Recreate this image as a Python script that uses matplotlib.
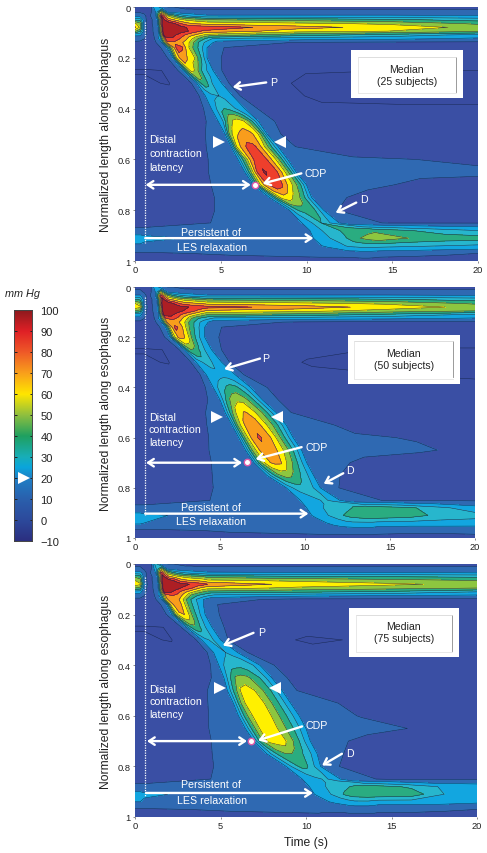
import numpy as np
import matplotlib
matplotlib.use("Agg")
import matplotlib.pyplot as plt
from matplotlib.colors import LinearSegmentedColormap
from matplotlib.patches import Rectangle

plt.rcParams['font.family'] = ['Liberation Sans', 'DejaVu Sans']

LEVELS = [-10, 0, 10, 20, 30, 40, 50, 60, 70, 80, 90, 110]
BAND_COLORS = ['#394ca1', '#3a4fa4', '#2f69b2', '#12a6e0', '#27b6cd', '#2aac80',
               '#8dc63f', '#fff000', '#f99d1c', '#ee3f2c', '#ad1f24']
CBAR_VALUES = [-10, 0, 10, 20, 25, 30, 40, 50, 60, 70, 80, 90, 100]
CBAR_COLORS = ['#2b2f80', '#2d4a9c', '#2a60ad', '#1f80c6', '#0aa5dc', '#18aeb8', '#1fa060',
               '#8fbf3f', '#ffe600', '#f9a01b', '#ef5a28', '#e02026', '#8e1a1e']
CBAR_TICKS = [-10, 0, 10, 20, 30, 40, 50, 60, 70, 80, 90, 100]

DEPTH = [0, .02, .035, .05, .065, .08, .095, .11, .125, .14, .16, .2, .25, .3, .35, .4, .45, .5, .55, .6,
         .65, .7, .75, .8, .85, .88, .91, .94, .97, 1]
BAND_FRACTIONS = [0, .12, .25, .38, .5, .62, .75, .88, 1]

LEFT_25 = [1.2, 1.2, 1.2, 1.3, 1.3, 1.35, 1.35, 1.4, 1.45, 1.55, 1.85, 2.2, 2.8, 3.6, 4.1, 4.45, 4.85, 5.25, 5.6, 6.0,
           6.4, 6.9, 7.9, 9.0, 9.8, 10.2, 10.5, 10.9, 11, 11]
RIGHT_25 = [4, 4, 4, 4, 4, 4, 4, 4, 4.5, 4.55, 4.2, 4.2, 4.55, 5.05, 5.7, 6.4, 7.2, 7.7, 8.35, 8.9,
            9.4, 10, 10.3, 11, 11.9, 14, 14, 14, 14, 14]
PRESSURE_25 = [
    [8, 8, 8, 8, 10, 30, 12, 10, 10, 9, 8, 8, 8, 8, 8, 8, 8, 8],
    [9, 9, 8, 7, 10, 20, 60, 20, 15, 14, 13, 13, 12, 12, 12, 12, 12, 12],
    [16, 16, 12, 7, 11, 20, 90, 60, 48, 38, 32, 28, 25, 23, 22, 22, 22, 21],
    [38, 36, 13, 6, 11, 20, 95, 75, 68, 62, 58, 56, 54, 52, 50, 46, 42, 36],
    [62, 52, 14, 6, 11, 20, 100, 96, 90, 80, 74, 70, 68, 67, 66, 62, 58, 48],
    [72, 58, 14, 6, 11, 20, 100, 98, 96, 94, 90, 88, 87, 86, 86, 74, 66, 57],
    [52, 42, 14, 6, 11, 20, 100, 98, 96, 94, 92, 86, 82, 78, 78, 64, 60, 52],
    [22, 22, 12, 6, 11, 20, 96, 95, 90, 84, 78, 72, 66, 60, 56, 44, 36, 27],
    [14, 13, 10, 6, 11, 24, 85, 88, 80, 72, 60, 48, 38, 30, 28, 24, 22, 18],
    [8, 8, 8, 6, 11, 20, 78, 78, 72, 64, 50, 36, 26, 20, 15, 9, 8, 8],
    [6, 6, 6, 6, 11, 20, 55, 84, 82, 66, 52, 42, 30, 20, 10.5, 7, 7, 7],
    [5, 5, 5, 5, 10.5, 20, 62, 76, 72, 66, 62, 48, 34, 20, 10.5, 6, 6, 6],
    [-.5, -.5, -.5, 0, 10.5, 20, 45, 62, 60, 50, 40, 32, 26, 20, 10.5, 1, 0, 0],
    [1, 1, 1, -.5, 10.5, 20, 36, 46, 44, 36, 30, 28, 24, 20, 10.5, -3, -3, -3],
    [3, 3, 3, 3, 10.5, 20, 24, 27, 29, 30, 29, 27, 24, 20, 10.5, -2, -2, -2],
    [3, 3, 3, 2, 11, 20, 28, 36, 40, 38, 33, 29, 24, 20, 11, 2, 1, 1],
    [3, 3, 3, 3, 12, 20, 30, 52, 62, 65, 62, 52, 36, 20, 11, 5, 4, 4],
    [4, 4, 4, 4, 14, 20, 55, 68, 72, 74, 72, 66, 45, 20, 10.8, 5, 5, 5],
    [5, 5, 5, 6, 14, 20, 60, 76, 84, 82, 72, 55, 37, 20, 10.5, 8, 8, 8],
    [5, 5, 5, 7, 14, 20, 45, 72, 87, 88, 76, 62, 42, 20, 14, 10.5, 10, 9],
    [6, 5, 5, 8, 14, 20, 50, 82, 91, 88, 82, 66, 45, 20, 14, 13, 12, 11],
    [5, 5, 5, 8.5, 14, 20, 58, 78, 87, 85, 72, 58, 42, 20, 15, 12, 8, 8],
    [5, 5, 5, 9.3, 14, 22, 42, 62, 66, 62, 55, 48, 35, 20, 14, 7, 6, 6],
    [5, 5, 5, 10, 14, 20, 32, 40, 42, 44, 44, 40, 30, 20, 11, 6, 6, 6],
    [7, 7, 7, 10.5, 15, 22, 26, 30, 34, 40, 38, 30, 26, 20, 13, 9.5, 9.5, 9.5],
    [12, 12, 12, 13, 15, 20, 27, 33, 36, 42, 44, 46, 46, 48, 46, 40, 34, 30],
    [26, 26, 24, 15, 17, 22, 26, 30, 34, 38, 46, 50, 54, 56, 57, 49, 46, 45],
    [18, 18, 16, 13, 14, 20, 22, 24, 28, 32, 33, 34, 34, 34, 34, 32, 30, 28],
    [9, 9, 9, 11, 13, 13, 13, 13, 13, 14, 14, 15, 15, 14, 13, 12, 11, 10],
    [7, 7, 7, 7, 7, 7, 7, 7, 7, 7, 7, 7, 7, 7, 7, 7, 7, 7],
]

LEFT_50 = [1.2, 1.2, 1.2, 1.3, 1.3, 1.35, 1.35, 1.4, 1.45, 1.55, 1.8, 2.05, 2.9, 3.6, 4.2, 4.6, 5.0, 5.3, 5.7, 6.1,
           6.5, 7.0, 7.75, 8.9, 9.8, 10.1, 10.5, 10.9, 11, 11]
RIGHT_50 = [4, 4, 4, 4, 4, 4, 4, 4, 4.5, 4.3, 4.1, 4.1, 4.5, 5.1, 5.9, 6.8, 7.5, 8.3, 8.9, 9.3,
            9.8, 10.1, 10.5, 10.9, 12.05, 14, 14, 14, 14, 14]
PRESSURE_50 = [
    [8, 8, 8, 8, 10, 28, 12, 10, 10, 9, 8, 8, 8, 8, 8, 8, 8, 8],
    [12, 12, 9, 7, 10, 20, 55, 20, 15, 14, 13, 13, 12, 12, 12, 12, 12, 12],
    [22, 22, 14, 7, 11, 20, 85, 55, 42, 34, 30, 27, 25, 23, 22, 22, 22, 21],
    [42, 38, 14, 6, 11, 20, 95, 72, 66, 60, 56, 54, 52, 50, 48, 46, 42, 36],
    [60, 54, 15, 6, 11, 20, 100, 95, 88, 78, 74, 72, 70, 68, 66, 62, 58, 48],
    [66, 62, 16, 6, 11, 20, 100, 98, 96, 94, 92, 88, 86, 85, 84, 76, 66, 57],
    [50, 46, 14, 6, 11, 20, 100, 97, 95, 92, 88, 84, 78, 72, 68, 64, 56, 50],
    [24, 24, 12, 6, 11, 20, 95, 94, 88, 80, 74, 66, 60, 54, 50, 46, 38, 28],
    [14, 14, 10, 6, 11, 24, 80, 84, 76, 64, 50, 40, 34, 30, 27, 24, 22, 19],
    [8, 8, 8, 6, 11, 20, 70, 72, 70, 60, 46, 36, 26, 20, 14, 9, 8, 8],
    [6, 6, 6, 6, 11, 20, 62, 84, 76, 62, 48, 38, 28, 20, 10.5, 7, 7, 7],
    [5, 5, 5, 5, 10.5, 20, 56, 72, 72, 66, 50, 38, 28, 20, 10.5, 6, 6, 6],
    [-.5, -.5, -.5, 0, 10.5, 20, 42, 50, 48, 42, 36, 30, 26, 20, 10.5, 3, -1, -1],
    [1, 1, 1, -.5, 10.5, 20, 26, 30, 34, 34, 30, 28, 24, 20, 10.5, -1, -2, -2],
    [3, 3, 3, 3, 10.5, 20, 22, 24, 25, 26, 26, 25, 23, 20, 10.5, 2, 0, -1],
    [3, 3, 3, 2, 11, 20, 30, 36, 42, 44, 42, 36, 28, 20, 11, 5, 3, 2],
    [3, 3, 3, 3, 12, 20, 38, 52, 58, 58, 52, 44, 32, 20, 11, 5, 5, 4],
    [4, 4, 4, 4, 14, 20, 46, 66, 71, 68, 58, 48, 34, 20, 10.8, 6, 5, 5],
    [5, 5, 5, 6, 14, 20, 55, 72, 76, 72, 62, 50, 36, 20, 15, 8, 7, 7],
    [5, 5, 5, 7, 14, 20, 52, 74, 82, 76, 68, 52, 36, 20, 16, 11, 9.5, 8],
    [5, 5, 5, 8, 14, 20, 50, 70, 76, 74, 66, 52, 36, 20, 16, 12.5, 11, 8],
    [5, 5, 5, 8.5, 14, 20, 48, 68, 72, 72, 60, 48, 34, 20, 15, 8, 6, 6],
    [5, 5, 5, 9.3, 14, 20, 36, 48, 54, 52, 46, 38, 30, 20, 13, 6, 5, 5],
    [5, 5, 5, 10, 14, 20, 28, 32, 34, 36, 34, 32, 26, 20, 12, 5, 5, 5],
    [7, 7, 7, 10.5, 15, 22, 24, 26, 28, 30, 32, 28, 24, 20, 13, 9.5, 9.5, 9],
    [12, 12, 12, 13, 15, 20, 26, 30, 32, 34, 38, 42, 44, 46, 46, 42, 32, 24],
    [24, 24, 22, 15, 17, 22, 26, 30, 34, 40, 44, 46, 48, 48, 48, 45, 36, 34],
    [22, 22, 20, 14, 15, 15, 20, 23, 26, 27, 28, 28, 28, 28, 27, 26, 26, 25],
    [8, 8, 8, 11, 13, 13, 13, 13, 13, 14, 14, 14, 14, 14, 13, 12, 12, 13],
    [7, 7, 7, 7, 7, 7, 7, 7, 7, 7, 7, 7, 7, 7, 7, 7, 7, 7],
]

LEFT_75 = [1.2, 1.2, 1.2, 1.3, 1.3, 1.35, 1.35, 1.4, 1.45, 1.55, 1.85, 2.15, 3.0, 3.9, 4.6, 4.9, 5.2, 5.4, 5.75, 6.05,
           6.45, 6.95, 7.7, 8.9, 9.85, 10.2, 10.6, 11, 11, 11]
RIGHT_75 = [4, 4, 4, 4, 4, 4, 4, 4, 4.5, 4, 4, 4.1, 4.5, 5, 6, 7.3, 8, 8.6, 9.1, 9.6,
            10, 10.25, 10.65, 10.85, 12, 14, 14, 14, 14, 14]
PRESSURE_75 = [
    [8, 8, 8, 8, 10, 35, 12, 10, 10, 9, 8, 8, 8, 8, 8, 8, 8, 8],
    [12, 12, 9, 7, 10, 25, 60, 20, 15, 14, 13, 13, 12, 12, 12, 12, 12, 12],
    [24, 24, 14, 7, 11, 20, 85, 55, 42, 34, 30, 27, 25, 23, 22, 21, 21, 20],
    [48, 44, 14, 6, 11, 20, 95, 72, 66, 60, 56, 54, 52, 50, 46, 42, 40, 38],
    [60, 54, 15, 6, 11, 20, 100, 95, 88, 76, 72, 70, 68, 66, 62, 58, 54, 50],
    [66, 62, 16, 6, 11, 20, 100, 98, 96, 94, 92, 88, 86, 84, 80, 66, 62, 57],
    [50, 46, 14, 6, 11, 20, 100, 96, 94, 90, 86, 80, 72, 66, 64, 58, 54, 50],
    [24, 24, 12, 6, 11, 20, 92, 92, 86, 78, 70, 62, 55, 50, 46, 42, 38, 30],
    [14, 14, 10, 6, 11, 22, 72, 80, 74, 62, 46, 38, 32, 28, 26, 22, 20, 18],
    [8, 8, 8, 6, 11, 20, 68, 76, 74, 62, 46, 36, 26, 20, 13, 8, 8, 8],
    [6, 6, 6, 6, 11, 20, 64, 76, 72, 60, 46, 36, 28, 20, 10.5, 6, 6, 6],
    [5, 5, 5, 5, 10.5, 20, 52, 68, 70, 62, 48, 38, 28, 20, 10.5, 6, 6, 6],
    [-.5, -.5, -.5, 0, 10.5, 20, 36, 44, 46, 42, 36, 30, 26, 20, 10.5, 5, 5, 5],
    [1, 1, 1, -.5, 10.5, 20, 24, 28, 30, 32, 30, 28, 24, 20, 10.5, -2, 3, 4],
    [3, 3, 3, 3, 10.5, 20, 24, 26, 28, 30, 28, 26, 24, 20, 10.5, 4, 4, 4],
    [3, 3, 3, 2, 11, 20, 30, 34, 36, 37, 36, 34, 28, 20, 11, 4, 4, 4],
    [3, 3, 3, 3, 12, 20, 38, 52, 54, 52, 46, 40, 30, 20, 11, 5, 5, 4],
    [4, 4, 4, 4, 14, 20, 42, 62, 65, 60, 52, 44, 32, 20, 10.8, 6, 5, 5],
    [5, 5, 5, 6, 14, 20, 48, 66, 68, 63, 54, 44, 32, 20, 15, 8, 7, 7],
    [5, 5, 5, 7, 14, 20, 46, 62, 64, 63, 54, 44, 32, 20, 16, 9.5, 9, 8],
    [5, 5, 5, 8, 14, 20, 44, 62, 65, 62, 54, 44, 32, 20, 16, 13, 9, 8],
    [5, 5, 5, 8.5, 14, 20, 45, 62, 64, 66, 56, 46, 32, 20, 15, 7, 6, 6],
    [5, 5, 5, 9.3, 14, 20, 34, 44, 50, 50, 46, 38, 30, 20, 13, 6, 5, 5],
    [5, 5, 5, 10, 14, 22, 30, 36, 42, 42, 40, 34, 26, 20, 12, 5, 5, 5],
    [7, 7, 7, 10.5, 15, 22, 24, 26, 28, 30, 32, 26, 24, 20, 12.5, 9, 9, 9],
    [12, 12, 12, 13, 15, 20, 26, 30, 32, 36, 40, 42, 42, 44, 44, 38, 28, 26],
    [24, 24, 22, 15, 17, 22, 26, 30, 36, 42, 46, 47, 48, 48, 48, 46, 30, 28],
    [20, 20, 18, 14, 15, 14, 20, 22, 24, 26, 28, 28, 28, 26, 25, 25, 24, 22],
    [9, 9, 9, 11, 13, 12, 12, 12, 12, 13, 13, 13, 13, 13, 12, 12, 11, 10],
    [7, 7, 7, 7, 7, 7, 7, 7, 7, 7, 7, 7, 7, 7, 7, 7, 7, 7],
]

W, H = 487, 854
fig = plt.figure(figsize=(W / 100, H / 100), dpi=100, facecolor='white')


def px_axes(x0, y0, x1, y1):
    return fig.add_axes([x0 / W, 1 - y1 / H, (x1 - x0) / W, (y1 - y0) / H])


def time_grid(left, right):
    rows = []
    for lo, hi in zip(left, right):
        lm = lo - .25
        band = [lo + f * (hi - lo) for f in BAND_FRACTIONS]
        rp = hi + .25
        rows.append([0, .3, .55, (.55 + lm) / 2, lm] + band +
                    [rp, rp + (20 - rp) / 3, rp + 2 * (20 - rp) / 3, 20])
    return np.array(rows)


PANELS = [
    dict(rect=(135, 8, 478, 262), left=LEFT_25, right=RIGHT_25, table=PRESSURE_25, n='Median\n(25 subjects)',
         box=(12.6, 19.1, .17, .36), box_text=.268, p=((7.65, .297), (5.7, .315), (7.85, .295)),
         d=((12.9, .77), (11.7, .81), (13.1, .755)), cdp=((9.7, .655), (7.45, .695), (9.9, .655)),
         dot=(7.0, .7), lat=(.62, 6.75, .7), tri=(4.9, 8.47, .53), dist=(.52, .575, .63),
         les=(.6, 10.4, .91), les_t=(.885, .945), vline=(.06, .93)),
    dict(rect=(135, 288, 475, 539), left=LEFT_50, right=RIGHT_50, table=PRESSURE_50, n='Median\n(50 subjects)',
         box=(12.5, 19.1, .19, .385), box_text=.285, p=((7.35, .285), (5.25, .327), (7.5, .283)),
         d=((12.25, .742), (11.1, .784), (12.4, .73)), cdp=((9.8, .638), (7.1, .686), (10.0, .636)),
         dot=(6.6, .698), lat=(.65, 6.3, .7), tri=(4.83, 8.36, .517), dist=(.517, .567, .616),
         les=(.6, 10.2, .903), les_t=(.875, .931), vline=(.04, .91)),
    dict(rect=(135, 565, 477, 818), left=LEFT_75, right=RIGHT_75, table=PRESSURE_75, n='Median\n(75 subjects)',
         box=(12.5, 18.95, .175, .367), box_text=.27, p=((6.93, .272), (5.14, .322), (7.2, .267)),
         d=((12.1, .75), (10.94, .796), (12.35, .747)), cdp=((9.77, .642), (7.2, .697), (9.95, .638)),
         dot=(6.8, .699), lat=(.7, 6.55, .7), tri=(4.98, 8.17, .49), dist=(.496, .543, .593),
         les=(.65, 10.4, .905), les_t=(.871, .934), vline=(.05, .92)),
]

for i, pn in enumerate(PANELS):
    ax = px_axes(*pn['rect'])
    X = time_grid(pn['left'], pn['right'])
    Z = np.tile(np.array(DEPTH)[:, None], (1, X.shape[1]))
    P = np.array(pn['table'], dtype=float)
    ax.contourf(X, Z, P, levels=LEVELS, colors=BAND_COLORS)
    ax.contour(X, Z, P, levels=LEVELS[1:-1], colors='#17264f', linewidths=.35)
    ax.set_xlim(0, 20)
    ax.set_ylim(1, 0)
    ax.set_xticks([0, 5, 10, 15, 20])
    ax.set_xticklabels(['0', '5', '10', '15', '20'], fontsize=6.7, color='#222222')
    ax.set_yticks([0, .2, .4, .6, .8, 1])
    ax.set_yticklabels(['0', '0.2', '0.4', '0.6', '0.8', '1'], fontsize=6.7, color='#222222')
    ax.tick_params(length=1.5, width=.4, pad=1.5, color='#333333')
    for s in ax.spines.values():
        s.set_visible(False)
    ax.set_ylabel('Normalized length along esophagus', fontsize=8.7, color='#222222', labelpad=4)

    white = dict(color='white', fontsize=7.7, family=['Liberation Sans'])
    head = dict(color='white', lw=1.7, shrinkA=0, shrinkB=0, mutation_scale=9)

    ax.plot([.6, .6], pn['vline'], color='white', lw=.9, ls=(0, (1, 1)))
    b = pn['box']
    ax.add_patch(Rectangle((b[0], b[2]), b[1] - b[0], b[3] - b[2], fc='white', ec='none', zorder=5))
    ax.plot([b[1] - .4, b[1] - .4], [b[2] + .025, b[3] - .025], color='#8a8a8a', lw=.6, zorder=6)
    ax.plot([b[0] + .4, b[1] - .4], [b[2] + .025, b[2] + .025], color='#d8d8d8', lw=.6, zorder=6)
    ax.plot([b[0] + .4, b[0] + .4, b[1] - .4], [b[2] + .025, b[3] - .02, b[3] - .02], color='#e4e4e4', lw=.6, zorder=6)
    ax.text((b[0] + b[1]) / 2, pn['box_text'], pn['n'], ha='center', va='center', fontsize=7.6, color='#222222',
            linespacing=1.25, zorder=7)

    a, t, lab = pn['p']
    ax.annotate('', xy=t, xytext=a, arrowprops=dict(arrowstyle='->,head_length=.45,head_width=.3', **head))
    ax.text(lab[0], lab[1], 'P', ha='left', va='center', **white)
    a, t, lab = pn['d']
    ax.annotate('', xy=t, xytext=a, arrowprops=dict(arrowstyle='->,head_length=.45,head_width=.3', **head))
    ax.text(lab[0], lab[1], 'D', ha='left', va='center', **white)
    a, t, lab = pn['cdp']
    ax.annotate('', xy=t, xytext=a, arrowprops=dict(arrowstyle='->,head_length=.45,head_width=.3', **head))
    ax.text(lab[0], lab[1], 'CDP', ha='left', va='center', **white)

    l0, l1, lz = pn['lat']
    ax.annotate('', xy=(l1, lz), xytext=(l0, lz), arrowprops=dict(arrowstyle='<->,head_length=.45,head_width=.3', **head))
    ax.plot(*pn['dot'], 'o', ms=4.6, mfc='white', mec='#e05aa8', mew=1.0, zorder=6)
    tl, tr, tz = pn['tri']
    ax.plot(tl, tz, '>', ms=9, color='white', mew=0)
    ax.plot(tr, tz, '<', ms=9, color='white', mew=0)
    for z, s in zip(pn['dist'], ['Distal', 'contraction', 'latency']):
        ax.text(.82, z, s, ha='left', va='center', **white)
    l0, l1, lz = pn['les']
    ax.annotate('', xy=(l1, lz), xytext=(l0, lz), arrowprops=dict(arrowstyle='->,head_length=.45,head_width=.3', **head))
    ax.text(4.45, pn['les_t'][0], 'Persistent of', ha='center', va='center', **white)
    ax.text(4.5, pn['les_t'][1], 'LES relaxation', ha='center', va='center', **white)
    if i == 2:
        ax.set_xlabel('Time (s)', fontsize=8.7, color='#222222', labelpad=4)

cax = px_axes(14, 311, 32, 542)
vals = np.linspace(-10, 100, 256)
cmap = LinearSegmentedColormap.from_list('press', [((v + 10) / 110, c) for v, c in zip(CBAR_VALUES, CBAR_COLORS)])
cax.imshow(vals[:, None], origin='lower', aspect='auto', cmap=cmap, vmin=-10, vmax=100, extent=(0, 1, -10, 100))
cax.set_xticks([])
cax.set_yticks(CBAR_TICKS)
cax.yaxis.tick_right()
cax.tick_params(axis='y', direction='in', length=1.8, width=.7, pad=6, labelsize=8, labelcolor='#222222',
                left=True, right=True, color='#222222')
labels = [('\u2212' + str(-v)) if v < 0 else str(v) for v in CBAR_TICKS]
cax.set_yticklabels(labels)
for s in cax.spines.values():
    s.set_linewidth(.7)
    s.set_color('#444444')
cax.plot(.55, 20, '>', ms=9, color='white', mew=0)
cax.set_xlim(0, 1)
cax.set_ylim(-10, 100)
fig.text(22 / W, 1 - 294 / H, 'mm Hg', ha='center', va='center', fontsize=7.8, style='italic', color='#222222')

fig.savefig('out.png', dpi=100, facecolor='white')
